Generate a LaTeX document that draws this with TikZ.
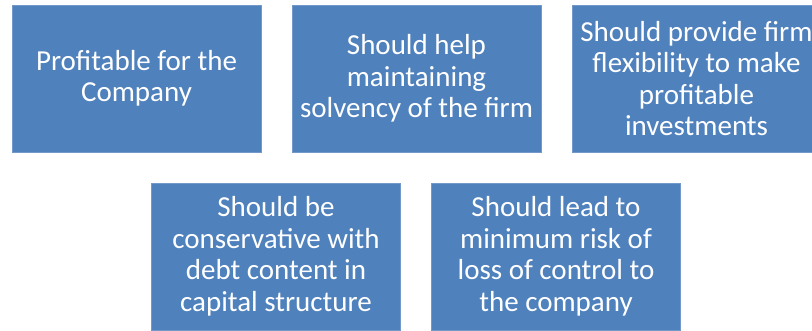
\documentclass[tikz,border=0pt]{standalone}
\usepackage{fontspec}
\setmainfont{Carlito}
\usetikzlibrary{positioning}
\definecolor{BoxBlue}{HTML}{4F81BD}
\definecolor{BoxEdge}{HTML}{7399CB}

\begin{document}
\begin{tikzpicture}[x=1pt,y=-1pt,
  box/.style={draw=BoxEdge,line width=1pt,fill=BoxBlue,text=white,align=center,minimum width=249pt,minimum height=147pt,inner sep=0pt,font=\fontsize{29}{31.5}\selectfont}]
  \useasboundingbox (0,0) rectangle (812,330);
  % top row
  \node[box] (profit) at (136.5,78.5) {Profitable for the\\Company};
  \node[box,right=30pt of profit] (solvency) {Should help\\maintaining\\solvency of the firm};
  \node[box,right=30pt of solvency] (flex) {Should provide firm\\flexibility to make\\profitable\\investments};
  % bottom row
  \node[box] (debt) at (276,256.5) {Should be\\conservative with\\debt content in\\capital structure};
  \node[box,right=30pt of debt] (control) {Should lead to\\minimum risk of\\loss of control to\\the company};
\end{tikzpicture}
\end{document}
